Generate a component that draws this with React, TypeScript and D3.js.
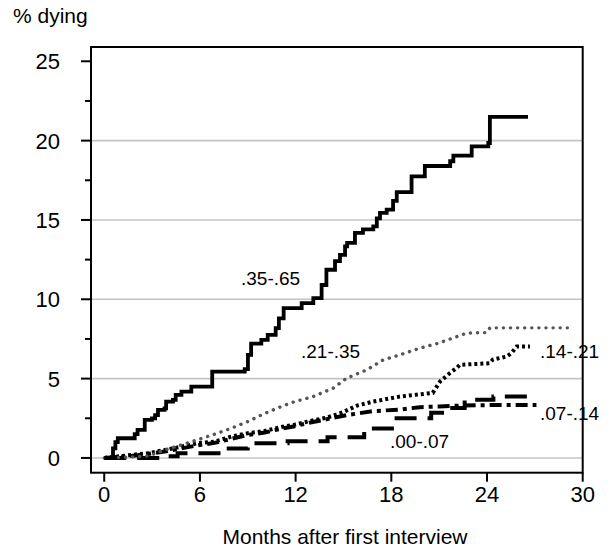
import React from 'react';
import * as d3 from 'd3';

type Pt = [number, number];

// months after interview, % dying
const s3565: Pt[] = [
  [0, 0], [0.55, 0.6], [0.7, 1.0], [0.85, 1.24], [1.91, 1.5], [2.09, 1.77], [2.54, 2.4], [2.99, 2.5],
  [3.19, 2.7], [3.37, 3.03], [3.78, 3.13], [3.88, 3.55], [4.31, 3.66], [4.48, 3.97], [4.84, 4.18],
  [5.46, 4.5], [6.77, 5.44], [8.81, 5.6], [9.01, 6.5], [9.21, 7.2], [9.85, 7.44], [10.25, 7.76],
  [10.75, 8.18], [10.95, 8.8], [11.25, 9.44], [12.38, 9.76], [13.11, 10.07], [13.63, 10.9],
  [13.93, 11.86], [14.47, 12.4], [14.78, 12.8], [15.1, 13.33], [15.23, 13.55], [15.72, 14.18],
  [16.22, 14.4], [16.87, 14.6], [17.09, 15.1], [17.29, 15.44], [17.71, 15.65], [18.11, 16.2],
  [18.34, 16.75], [19.27, 17.75], [20.1, 18.4], [21.69, 18.7], [21.89, 19.05], [23.04, 19.64],
  [24.08, 19.85], [24.18, 21.5], [26.57, 21.5],
];
const s2135: Pt[] = [
  [0, 0], [1.5, 0.05], [2.79, 0.13], [3.78, 0.5], [4.83, 0.82], [5.87, 1.15], [6.93, 1.5], [7.96, 1.87],
  [9.02, 2.3], [10.05, 2.8], [11.11, 3.24], [11.94, 3.55], [13.11, 3.87], [14.36, 4.4], [15.21, 5.03],
  [16.46, 5.55], [17.49, 6.18], [18.55, 6.5], [19.8, 6.92], [20.95, 7.23], [22.73, 7.87],
  [23.98, 7.9], [24.18, 8.2], [29.4, 8.2],
];
const s1421: Pt[] = [
  [0, 0], [1.7, 0.19], [2.74, 0.3], [3.79, 0.5], [4.83, 0.71], [5.87, 0.93], [6.92, 1.03], [7.96, 1.34],
  [9.0, 1.56], [10.06, 1.7], [11.1, 1.95], [11.94, 2.1], [13.0, 2.35], [14.0, 2.55], [15.0, 2.9],
  [15.85, 3.3], [16.85, 3.55], [18.54, 3.87], [20.6, 4.1], [21.05, 4.81], [21.67, 5.35], [22.1, 5.67],
  [22.3, 5.87], [24.18, 5.97], [24.37, 6.2], [25.23, 6.39], [25.54, 6.62], [25.86, 7.02], [26.69, 7.02],
];
const s0714: Pt[] = [
  [0, 0], [1.7, 0.12], [2.74, 0.25], [3.79, 0.4], [4.83, 0.6], [5.87, 0.8], [6.92, 0.95], [7.96, 1.2],
  [9.0, 1.45], [10.06, 1.6], [11.1, 1.85], [11.94, 2.0], [13.0, 2.25], [14.0, 2.45], [15.2, 2.7],
  [16.87, 2.95], [18.5, 3.05], [19.8, 3.2], [21.0, 3.25], [22.5, 3.3], [24.4, 3.34], [27.1, 3.34],
];
const s0007: Pt[] = [
  [0, 0], [3.5, 0.1], [4.6, 0.3], [7.5, 0.6], [9.0, 0.93], [11.5, 1.05], [14.0, 1.3], [16.3, 1.85],
  [18.2, 2.5], [20.5, 2.85], [21.4, 3.15], [22.6, 3.66], [24.4, 3.87], [27.1, 3.87],
];

const xTicks = [0, 6, 12, 18, 24, 30];
const yTicks = [0, 5, 10, 15, 20, 25];
const yMinor = [2.5, 7.5, 12.5, 17.5, 22.5];
const grid = [0, 5, 10, 15, 20];

const font = '"Liberation Sans", Arial, Helvetica, sans-serif';

export default function App() {
  const x = d3.scaleLinear().domain([-0.83, 30]).range([91, 582.7]);
  const y = d3.scaleLinear().domain([-0.93, 25.9]).range([472.7, 47]);

  const step = d3.line<Pt>().x((d) => x(d[0])).y((d) => y(d[1])).curve(d3.curveStepAfter);
  const lin = d3.line<Pt>().x((d) => x(d[0])).y((d) => y(d[1]));

  const [x0, x1] = x.range();
  const [y0, y1] = y.range();

  const series = [
    { d: step(s0007), w: 4, dash: '22,11', color: '#000', cap: 'butt' },
    { d: lin(s0714), w: 4, dash: '12,5,4,5', color: '#000', cap: 'butt' },
    { d: lin(s1421), w: 4, dash: '3,3', color: '#000', cap: 'butt' },
    { d: lin(s2135), w: 3.4, dash: '0.1,7', color: '#555', cap: 'round' },
    { d: step(s3565), w: 3.8, dash: undefined, color: '#000', cap: 'butt' },
  ];

  const labels = [
    { t: '.35-.65', x: 241, y: 285 },
    { t: '.21-.35', x: 301, y: 358 },
    { t: '.14-.21', x: 540, y: 358 },
    { t: '.07-.14', x: 540, y: 420 },
    { t: '.00-.07', x: 390, y: 448 },
  ];

  return (
    <svg width={615} height={550} style={{ position: 'absolute', left: 0, top: 0, background: '#fff' }} fontFamily={font}>
      {grid.map((g) => (
        <line key={g} x1={x0} x2={x1} y1={y(g)} y2={y(g)} stroke="#c4c4c4" strokeWidth={1.6} />
      ))}
      <rect x={x0} y={y1} width={x1 - x0} height={y0 - y1} fill="none" stroke="#000" strokeWidth={2} />
      {yTicks.map((t) => (
        <g key={t}>
          <line x1={x0 - 10} x2={x0} y1={y(t)} y2={y(t)} stroke="#000" strokeWidth={2} />
          <text x={60} y={y(t)} dy="0.36em" textAnchor="end" fontSize={22}>{t}</text>
        </g>
      ))}
      {yMinor.map((t) => (
        <line key={t} x1={x0 - 6} x2={x0} y1={y(t)} y2={y(t)} stroke="#000" strokeWidth={2} />
      ))}
      {xTicks.map((t) => (
        <g key={t}>
          <line x1={x(t)} x2={x(t)} y1={y0} y2={y0 + 9} stroke="#000" strokeWidth={2} />
          <text x={x(t)} y={501.5} textAnchor="middle" fontSize={22}>{t}</text>
        </g>
      ))}
      {series.map((s, i) => (
        <path
          key={i}
          d={s.d ?? ''}
          fill="none"
          stroke={s.color}
          strokeWidth={s.w}
          strokeDasharray={s.dash}
          strokeLinecap={s.cap as any}
          strokeLinejoin="miter"
        />
      ))}
      {labels.map((l) => (
        <text key={l.t} x={l.x} y={l.y} fontSize={19}>{l.t}</text>
      ))}
      <text x={13} y={23} fontSize={21}>% dying</text>
      <text x={345} y={544} textAnchor="middle" fontSize={21}>Months after first interview</text>
    </svg>
  );
}
